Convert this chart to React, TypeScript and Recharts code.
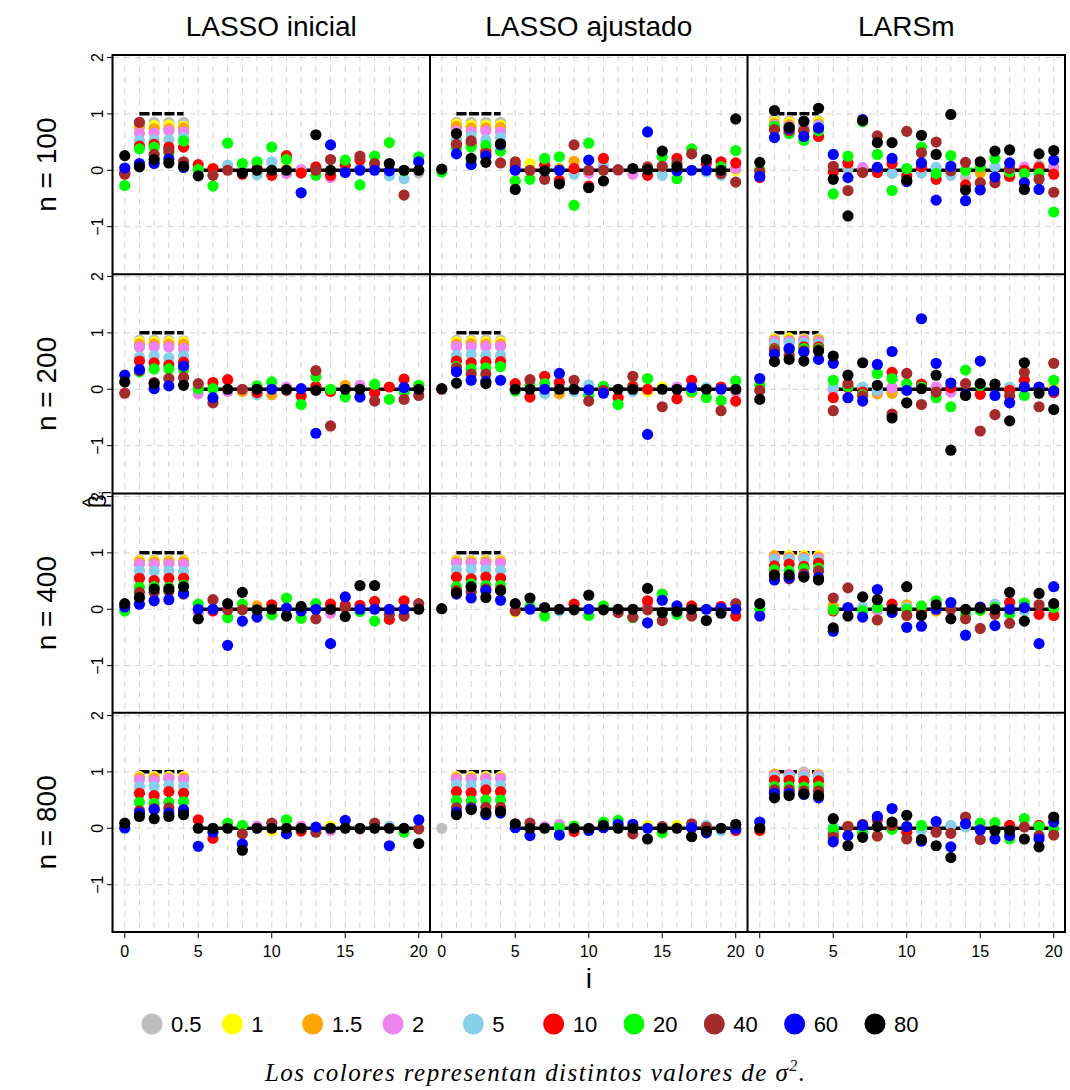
import React from 'react';
import { ScatterChart, Scatter, XAxis, YAxis, CartesianGrid } from 'recharts';

const _ = null;

const sigmaLabels = ['0.5', '1', '1.5', '2', '5', '10', '20', '40', '60', '80'];
const sigmaColors = ['#BEBEBE', '#FFFF00', '#FFA500', '#EE82EE', '#87CEEB', '#FF0000', '#00FF00', '#A52A2A', '#0000FF', '#000000'];
const methodTitles = ['LASSO inicial', 'LASSO ajustado', 'LARSm'];
const rowLabels = ['n = 100', 'n = 200', 'n = 400', 'n = 800'];
const indexTicks = [0, 1, 2, 3, 4, 5, 6, 7, 8, 9, 10, 11, 12, 13, 14, 15, 16, 17, 18, 19, 20];
const labelledIndexTicks = [0, 5, 10, 15, 20];
const betaTicks = [-1, 0, 1, 2];
const trueBeta = [_, 1, 1, 1, 1, 0, 0, 0, 0, 0, 0, 0, 0, 0, 0, 0, 0, 0, 0, 0, 0];

// each row: coefficient i, values for sigma^2 = 0.5,1,1.5,2,5,10,20,40,60,80 (null = not plotted)
const lassoIni100 = [
  [_, _, _, -0.04, _, -0.05, -0.27, -0.07, 0.04, 0.26],
  [0.83, 0.81, 0.77, 0.66, 0.53, 0.43, 0.38, 0.85, 0.12, 0.06],
  [0.85, 0.79, 0.74, 0.66, 0.54, 0.46, 0.41, 0.28, 0.12, 0.19],
  [0.85, 0.8, 0.74, 0.7, 0.54, 0.41, 0.3, 0.35, 0.2, 0.13],
  [0.85, 0.78, 0.75, 0.68, 0.58, 0.41, 0.52, 0.15, 0.05, 0.07],
  [_, _, _, _, _, 0.1, 0.01, _, _, -0.1],
  [_, _, _, _, _, 0.03, -0.28, -0.09, _, _],
  [_, _, _, _, 0.09, _, 0.48, 0.0, _, _],
  [_, _, _, _, _, -0.07, 0.12, _, _, -0.05],
  [_, _, _, _, -0.08, 0.03, 0.15, _, _, 0.0],
  [_, _, _, _, 0.15, -0.09, 0.41, _, _, 0.0],
  [_, 0.03, _, -0.06, _, 0.26, 0.19, _, _, 0.0],
  [_, _, _, 0.01, _, -0.05, _, _, -0.4, _],
  [_, _, _, _, _, 0.06, -0.09, 0.0, _, 0.63],
  [_, _, _, -0.13, _, -0.09, _, 0.19, 0.45, 0.0],
  [_, _, _, _, _, 0.09, 0.18, _, -0.04, _],
  [_, _, _, _, 0.05, 0.18, -0.26, 0.25, 0.0, _],
  [_, _, _, 0.03, _, _, 0.25, 0.12, 0.0, _],
  [_, _, _, _, -0.1, _, 0.49, _, -0.01, 0.12],
  [_, _, _, _, -0.15, _, -0.01, -0.44, _, 0.0],
  [-0.05, _, _, _, _, _, 0.24, _, 0.15, 0.0],
];

const lassoAju100 = [
  [_, _, _, _, _, _, -0.03, _, _, 0.02],
  [0.85, 0.82, 0.78, 0.7, 0.55, 0.44, 0.4, 0.46, 0.29, 0.65],
  [0.85, 0.8, 0.75, 0.68, 0.6, 0.47, 0.41, 0.52, 0.1, 0.21],
  [0.85, 0.8, 0.75, 0.7, 0.54, 0.34, 0.44, 0.3, 0.25, 0.14],
  [0.85, 0.8, 0.76, 0.68, 0.58, 0.46, 0.34, 0.13, 0.45, 0.47],
  [_, _, _, _, _, 0.08, -0.19, 0.15, 0.0, -0.34],
  [_, 0.12, _, _, _, _, -0.16, 0.0, _, _],
  [_, _, _, _, _, 0.09, 0.21, -0.16, _, -0.01],
  [_, _, 0.03, _, _, -0.18, 0.24, _, 0.0, -0.24],
  [_, _, 0.16, _, -0.07, 0.03, -0.62, 0.45, _, _],
  [_, _, _, -0.05, _, -0.28, 0.48, 0.0, 0.18, -0.31],
  [_, _, _, _, 0.1, 0.21, _, 0.0, _, -0.19],
  [_, _, _, 0.0, _, _, _, 0.01, _, _],
  [_, _, _, -0.07, _, _, _, _, _, 0.03],
  [_, _, _, _, _, -0.09, _, 0.06, 0.68, 0.01],
  [_, _, _, _, -0.09, _, 0.24, 0.07, _, 0.34],
  [_, _, _, _, _, 0.21, -0.15, 0.12, -0.01, 0.06],
  [_, _, _, _, _, _, 0.38, 0.29, 0.0, _],
  [_, _, _, _, -0.03, 0.12, _, _, 0.0, 0.19],
  [_, _, _, _, -0.09, 0.15, 0.06, -0.06, _, 0.0],
  [_, -0.01, _, 0.03, _, 0.13, 0.35, -0.21, _, 0.91],
];

const larsm100 = [
  [_, _, _, _, _, -0.13, 0.01, -0.02, -0.11, 0.14],
  [0.92, 0.86, 0.83, 0.8, 0.78, 0.75, 0.78, 0.72, 0.58, 1.06],
  [0.88, 0.85, 0.81, 0.78, 0.75, 0.66, 0.65, 0.7, 0.74, 0.76],
  [0.88, 0.85, 0.82, 0.78, 0.75, 0.7, 0.53, 0.7, 0.6, 0.87],
  [0.88, 0.86, 0.82, 0.8, 0.78, 0.6, 0.7, 0.75, 0.75, 1.1],
  [_, _, _, _, _, -0.03, -0.42, 0.07, 0.28, -0.16],
  [_, _, 0.02, _, 0.05, 0.13, 0.25, -0.36, -0.13, -0.81],
  [_, _, _, 0.05, _, _, 0.86, -0.04, 0.9, 0.88],
  [_, _, _, _, _, -0.04, 0.28, 0.61, 0.05, 0.49],
  [_, _, _, _, -0.06, 0.12, -0.36, _, 0.21, 0.49],
  [_, _, _, _, _, -0.1, 0.03, 0.69, -0.2, -0.18],
  [_, _, _, _, -0.05, 0.06, 0.41, 0.31, 0.13, 0.62],
  [_, _, _, _, 0.05, -0.16, -0.06, 0.5, -0.53, 0.28],
  [_, _, _, _, -0.09, _, 0.26, -0.01, 0.07, 0.99],
  [-0.12, _, _, _, _, -0.26, 0.0, 0.14, -0.54, -0.35],
  [_, _, -0.05, _, _, _, 0.06, -0.22, -0.35, 0.15],
  [_, _, _, _, 0.06, _, 0.21, -0.22, -0.12, 0.34],
  [_, _, _, _, _, -0.11, -0.03, 0.03, 0.13, 0.36],
  [_, _, _, 0.06, _, 0.0, -0.06, _, -0.22, -0.34],
  [0.09, _, _, _, _, 0.05, -0.06, -0.16, -0.34, 0.29],
  [_, _, _, 0.06, _, -0.07, -0.74, -0.39, 0.18, 0.35],
];

const lassoIni200 = [
  [_, _, _, _, _, _, _, -0.07, 0.25, 0.13],
  [0.87, 0.84, 0.8, 0.75, 0.57, 0.5, 0.31, 0.33, 0.35, _],
  [0.87, 0.84, 0.8, 0.75, 0.59, 0.47, 0.36, 0.12, 0.01, 0.1],
  [0.87, 0.84, 0.8, 0.75, 0.56, 0.43, 0.36, 0.19, 0.06, _],
  [0.86, 0.84, 0.8, 0.72, 0.59, 0.48, 0.35, 0.21, 0.41, 0.07],
  [_, _, _, -0.08, _, _, 0.01, 0.1, _, _],
  [_, _, _, _, _, 0.12, 0.01, -0.24, -0.15, _],
  [_, _, _, -0.04, _, 0.17, _, _, _, 0.0],
  [_, _, -0.04, _, _, _, _, 0.0, _, _],
  [_, _, _, _, -0.1, -0.06, 0.06, _, _, 0.0],
  [_, _, -0.1, _, _, _, 0.13, _, 0.0, _],
  [_, _, _, 0.04, _, _, _, -0.02, _, 0.0],
  [_, _, _, _, _, -0.12, -0.27, _, 0.01, _],
  [_, _, _, _, _, 0.05, 0.22, 0.33, -0.78, -0.02],
  [_, _, _, _, _, -0.04, 0.0, -0.65, _, _],
  [_, _, 0.07, _, _, _, -0.14, _, _, 0.0],
  [_, _, _, 0.07, _, _, _, _, -0.14, 0.0],
  [_, _, _, _, _, -0.06, 0.09, -0.21, _, _],
  [_, _, _, _, _, 0.04, -0.18, _, _, _],
  [_, _, _, _, _, 0.18, -0.05, -0.18, 0.03, _],
  [_, _, _, _, _, _, 0.07, -0.11, _, 0.0],
];

const lassoAju200 = [
  [_, _, _, _, _, 0.0, _, _, _, 0.01],
  [0.87, 0.84, 0.8, 0.76, 0.6, 0.5, 0.4, 0.38, 0.31, 0.11],
  [0.87, 0.85, 0.81, 0.75, 0.62, 0.47, 0.36, 0.27, 0.16, _],
  [0.87, 0.84, 0.8, 0.76, 0.6, 0.49, 0.38, 0.27, 0.14, 0.1],
  [0.87, 0.84, 0.8, 0.76, 0.6, 0.49, 0.4, _, 0.16, _],
  [_, _, _, _, _, 0.1, -0.03, _, _, 0.0],
  [_, _, _, _, _, -0.14, 0.06, 0.17, _, 0.0],
  [_, _, _, _, -0.08, 0.23, 0.1, _, 0.0, _],
  [_, _, -0.08, _, _, 0.12, _, _, 0.28, 0.0],
  [_, _, _, _, -0.04, _, _, 0.16, _, 0.0],
  [_, _, _, _, 0.08, _, -0.1, -0.21, -0.01, _],
  [_, _, _, 0.05, _, _, 0.05, -0.02, -0.07, _],
  [_, _, _, _, _, -0.15, -0.27, _, _, 0.0],
  [_, _, _, _, -0.04, 0.05, _, 0.23, _, 0.0],
  [_, -0.04, _, _, _, 0.0, 0.19, _, -0.8, _],
  [_, 0.04, _, _, _, _, _, -0.31, _, 0.0],
  [_, _, _, 0.04, _, -0.17, _, _, _, 0.0],
  [_, _, -0.06, _, _, 0.16, -0.04, _, 0.03, _],
  [_, _, _, _, 0.03, _, -0.15, _, _, 0.0],
  [_, _, _, _, _, 0.04, -0.2, -0.38, 0.0, _],
  [_, _, _, -0.04, _, -0.21, 0.15, _, _, 0.0],
];

const larsm200 = [
  [_, _, _, _, _, _, 0.08, -0.02, 0.19, -0.18],
  [0.9, 0.89, 0.87, 0.85, 0.8, 0.72, 0.7, 0.69, 0.62, 0.49],
  [0.9, 0.91, 0.87, 0.85, 0.82, 0.72, 0.7, 0.6, 0.72, 0.53],
  [0.9, 0.88, 0.87, 0.86, 0.82, 0.75, 0.72, 0.68, 0.66, 0.5],
  [0.9, 0.88, 0.87, 0.84, 0.8, 0.75, 0.72, 0.7, 0.53, 0.68],
  [_, _, _, 0.0, 0.04, -0.15, 0.16, -0.38, 0.46, 0.59],
  [_, _, _, _, _, 0.03, 0.05, 0.1, -0.15, 0.25],
  [_, 0.04, _, _, 0.04, -0.05, -0.1, -0.12, -0.21, 0.47],
  [_, _, -0.08, -0.03, -0.02, _, 0.28, _, 0.44, 0.07],
  [-0.05, _, -0.07, 0.03, _, 0.3, 0.19, -0.44, 0.67, -0.51],
  [_, _, _, _, _, _, 0.1, 0.28, -0.02, -0.24],
  [_, 0.01, _, _, _, 0.09, 0.04, -0.27, 1.25, 0.01],
  [_, _, _, 0.04, _, _, -0.15, -0.05, 0.46, 0.25],
  [_, _, _, -0.05, _, 0.03, -0.31, _, 0.11, -1.08],
  [_, _, _, _, _, _, 0.34, 0.1, -0.09, -0.11],
  [_, _, _, _, _, -0.09, 0.07, -0.74, 0.5, 0.1],
  [_, _, _, _, _, _, _, -0.45, -0.11, 0.09],
  [_, _, _, _, 0.04, -0.02, _, -0.12, -0.24, -0.56],
  [_, _, _, _, _, 0.16, -0.11, 0.3, 0.04, 0.47],
  [_, _, _, _, _, _, _, -0.31, 0.04, -0.07],
  [_, 0.04, _, _, _, -0.06, 0.16, 0.46, -0.03, -0.36],
];

const lassoIni400 = [
  [_, _, _, _, _, _, -0.03, _, 0.04, 0.1],
  [0.88, 0.86, 0.84, 0.8, 0.68, 0.55, 0.39, 0.3, 0.09, 0.21],
  [0.88, 0.86, 0.84, 0.8, 0.68, 0.51, 0.4, 0.3, 0.15, 0.36],
  [0.88, 0.86, 0.84, 0.8, 0.68, 0.55, 0.39, 0.32, 0.17, 0.36],
  [0.88, 0.86, 0.84, 0.8, 0.67, 0.55, 0.43, 0.27, 0.28, 0.4],
  [_, _, _, -0.07, _, _, 0.09, _, 0.0, -0.17],
  [_, _, _, _, _, -0.03, _, 0.17, 0.0, _],
  [_, _, _, _, _, _, -0.15, -0.01, -0.64, 0.1],
  [_, _, _, _, _, _, 0.09, -0.01, -0.21, 0.3],
  [_, _, 0.06, _, _, _, _, _, -0.14, -0.01],
  [_, _, _, _, _, 0.08, -0.1, _, _, 0.0],
  [_, _, _, _, _, _, 0.2, _, 0.02, -0.12],
  [_, _, _, _, _, _, -0.16, _, -0.03, 0.05],
  [_, _, _, _, _, _, 0.1, -0.17, 0.0, _],
  [_, _, _, -0.07, _, 0.09, _, _, -0.61, 0.0],
  [_, _, _, _, _, 0.07, _, 0.03, 0.22, -0.13],
  [_, _, _, _, _, 0.07, -0.04, _, 0.0, 0.42],
  [_, _, _, _, _, 0.14, -0.21, _, 0.0, 0.42],
  [_, _, _, _, _, -0.18, _, -0.09, 0.0, _],
  [_, _, _, _, _, 0.15, _, -0.12, 0.0, _],
  [_, _, _, _, _, _, _, 0.1, _, 0.0],
];

const lassoAju400 = [
  [_, _, _, _, _, _, _, _, _, 0.01],
  [0.88, 0.86, 0.84, 0.82, 0.7, 0.57, 0.4, 0.33, 0.27, 0.29],
  [0.88, 0.86, 0.84, 0.82, 0.71, 0.54, 0.45, 0.31, 0.2, 0.4],
  [0.88, 0.86, 0.84, 0.82, 0.7, 0.57, 0.42, 0.36, 0.33, 0.21],
  [0.88, 0.86, 0.84, 0.82, 0.69, 0.55, 0.42, 0.35, 0.16, 0.33],
  [_, -0.05, _, _, _, _, _, -0.03, _, 0.1],
  [_, _, _, _, _, _, 0.05, _, 0.0, 0.2],
  [_, _, _, _, _, _, -0.12, _, _, 0.03],
  [_, _, _, _, -0.03, _, _, _, _, 0.0],
  [_, _, _, _, _, 0.09, _, _, _, -0.01],
  [_, _, _, _, _, _, -0.11, _, 0.0, 0.25],
  [_, _, _, _, _, _, 0.06, _, _, -0.01],
  [_, _, _, _, _, _, _, -0.06, _, 0.0],
  [_, _, _, _, _, _, -0.15, -0.14, _, 0.0],
  [_, _, _, 0.06, _, 0.15, _, -0.01, -0.24, 0.37],
  [_, _, _, _, _, _, 0.27, -0.2, 0.16, -0.06],
  [_, _, _, _, _, _, -0.09, _, 0.06, -0.04],
  [_, _, _, _, _, 0.06, _, -0.12, _, 0.0],
  [_, _, _, _, _, _, _, _, 0.0, -0.2],
  [_, _, _, _, _, 0.05, _, _, 0.02, -0.07],
  [_, _, _, _, _, -0.12, _, 0.1, 0.0, _],
];

const larsm400 = [
  [_, _, _, _, _, _, 0.0, _, -0.12, 0.1],
  [0.93, 0.93, 0.95, 0.9, 0.88, 0.77, 0.7, 0.62, 0.52, 0.6],
  [0.93, 0.95, 0.92, 0.9, 0.88, 0.8, 0.68, 0.54, 0.56, 0.61],
  [0.93, 0.95, 0.92, 0.9, 0.88, 0.76, 0.72, 0.63, 0.58, 0.57],
  [0.93, 0.95, 0.92, 0.9, 0.87, 0.82, 0.73, 0.68, 0.56, 0.52],
  [_, _, 0.06, _, _, -0.03, -0.01, 0.2, -0.39, -0.33],
  [_, _, _, _, _, _, _, 0.38, 0.03, -0.12],
  [_, _, _, _, 0.04, _, -0.03, _, -0.14, 0.22],
  [_, _, _, -0.02, _, _, 0.03, -0.19, 0.35, 0.17],
  [_, _, _, _, _, 0.09, _, _, -0.06, 0.0],
  [_, _, 0.08, _, 0.03, _, 0.0, -0.11, -0.32, 0.4],
  [_, _, _, _, _, -0.03, 0.06, _, -0.3, -0.11],
  [_, _, -0.03, _, _, _, 0.15, _, 0.0, 0.08],
  [_, _, _, _, _, _, _, 0.0, 0.12, -0.17],
  [_, _, _, _, _, _, -0.09, -0.17, -0.46, 0.0],
  [_, _, _, _, _, _, -0.02, -0.34, 0.04, 0.02],
  [_, _, _, _, 0.09, _, 0.03, -0.09, -0.29, 0.0],
  [_, _, _, _, _, 0.12, -0.08, -0.25, 0.0, 0.3],
  [_, _, _, _, -0.03, _, 0.11, _, 0.03, -0.21],
  [_, _, _, _, _, -0.09, _, 0.08, -0.61, 0.28],
  [_, _, _, _, _, -0.11, 0.03, _, 0.4, 0.1],
];

const lassoIni800 = [
  [_, _, _, _, -0.01, _, _, _, 0.01, 0.09],
  [0.92, 0.91, 0.89, 0.86, 0.74, 0.62, 0.46, 0.31, 0.27, 0.21],
  [0.92, 0.91, 0.89, 0.85, 0.74, 0.58, 0.44, 0.35, 0.33, 0.17],
  [0.92, 0.91, 0.89, 0.88, 0.76, 0.65, 0.46, 0.36, 0.27, 0.21],
  [0.92, 0.91, 0.89, 0.86, 0.74, 0.62, 0.47, 0.29, 0.33, 0.24],
  [_, _, _, _, _, 0.15, _, _, -0.32, 0.0],
  [_, _, _, _, _, -0.18, _, _, -0.07, 0.0],
  [_, _, _, _, _, _, 0.09, _, _, 0.0],
  [_, _, _, _, _, _, 0.05, -0.1, -0.28, -0.39],
  [_, _, _, 0.04, _, _, _, _, _, 0.0],
  [_, -0.04, _, _, _, _, _, 0.09, _, 0.0],
  [_, _, _, _, _, _, 0.15, _, -0.1, 0.0],
  [_, _, _, 0.04, _, -0.05, _, _, _, 0.0],
  [_, _, _, _, _, _, _, -0.07, 0.02, _],
  [_, 0.04, _, -0.04, _, _, _, _, _, 0.0],
  [_, _, _, _, _, _, _, _, 0.14, 0.0],
  [_, _, _, _, _, _, _, -0.01, _, 0.0],
  [_, _, _, _, _, _, _, 0.09, _, 0.0],
  [_, _, _, _, 0.04, _, _, _, -0.31, 0.0],
  [_, _, _, _, _, _, -0.07, _, _, 0.0],
  [_, _, _, _, _, _, _, -0.01, 0.15, -0.27],
];

const lassoAju800 = [
  [0.0, _, _, _, _, _, _, _, _, _],
  [0.92, 0.91, 0.89, 0.87, 0.77, 0.65, 0.49, 0.36, 0.28, 0.24],
  [0.92, 0.91, 0.89, 0.87, 0.76, 0.63, 0.48, 0.37, 0.35, 0.33],
  [0.92, 0.91, 0.89, 0.88, 0.78, 0.68, 0.5, 0.37, 0.24, 0.27],
  [0.92, 0.91, 0.89, 0.88, 0.76, 0.65, 0.5, 0.37, 0.27, 0.3],
  [_, _, _, _, _, _, _, _, 0.01, 0.08],
  [_, _, _, _, _, _, _, 0.09, -0.13, 0.0],
  [_, _, _, 0.03, _, _, _, _, _, 0.0],
  [_, _, _, 0.07, _, _, 0.01, _, -0.12, _],
  [_, _, _, _, _, -0.06, 0.04, _, _, 0.0],
  [_, _, _, _, _, _, _, _, -0.04, 0.0],
  [_, _, _, _, _, _, 0.11, _, 0.01, 0.05],
  [_, _, _, _, _, _, 0.14, _, 0.07, 0.0],
  [_, _, _, _, _, _, _, -0.1, 0.07, 0.0],
  [_, 0.05, _, _, _, _, _, _, 0.0, -0.19],
  [_, _, _, _, _, _, -0.08, 0.03, _, 0.0],
  [_, 0.05, _, _, _, _, _, _, _, 0.0],
  [_, _, _, _, _, _, _, 0.08, 0.01, -0.15],
  [_, _, _, _, 0.05, _, _, 0.02, -0.08, -0.05],
  [_, _, _, _, -0.04, _, _, _, _, 0.0],
  [_, _, _, _, _, -0.04, _, _, -0.01, 0.07],
];

const larsm800 = [
  [_, _, _, _, _, -0.04, _, _, 0.11, 0.0],
  [0.95, 0.95, 0.96, 0.93, 0.9, 0.85, 0.74, 0.68, 0.62, 0.54],
  [0.95, 0.95, 0.94, 0.95, 0.9, 0.85, 0.74, 0.68, 0.62, 0.58],
  [1.0, 0.96, 0.95, 0.95, 0.92, 0.84, 0.73, 0.66, 0.6, 0.61],
  [0.96, 0.95, 0.94, 0.93, 0.9, 0.84, 0.74, 0.66, 0.54, 0.58],
  [_, _, _, _, 0.03, -0.08, -0.02, -0.16, -0.24, 0.17],
  [_, _, 0.04, _, _, _, _, 0.03, -0.13, -0.31],
  [_, _, _, _, _, _, -0.08, 0.07, 0.05, -0.16],
  [_, _, _, _, _, 0.15, _, -0.14, 0.21, 0.03],
  [_, _, _, _, _, _, -0.02, 0.05, 0.35, 0.11],
  [_, _, _, _, _, -0.07, _, -0.19, 0.03, 0.23],
  [_, _, _, _, -0.03, _, 0.05, _, -0.23, -0.2],
  [_, _, _, _, _, _, _, -0.07, 0.12, -0.31],
  [_, _, _, _, 0.05, _, _, -0.09, -0.33, -0.52],
  [_, _, _, _, 0.02, _, _, 0.2, 0.08, _],
  [_, _, _, _, _, _, 0.09, -0.2, -0.03, _],
  [_, _, _, _, _, _, 0.1, _, -0.19, -0.04],
  [_, _, _, _, _, 0.05, -0.19, _, -0.13, -0.04],
  [_, _, _, _, _, _, 0.17, 0.02, _, -0.19],
  [_, _, _, _, _, 0.05, 0.03, -0.13, -0.19, -0.33],
  [_, _, _, _, _, _, -0.01, -0.12, 0.11, 0.2],
];

const panelGrid = [
  [lassoIni100, lassoAju100, larsm100],
  [lassoIni200, lassoAju200, larsm200],
  [lassoIni400, lassoAju400, larsm400],
  [lassoIni800, lassoAju800, larsm800],
];

// layout
const X_DOMAIN = [-0.8, 20.8];
const Y_DOMAIN = [-1.844, 2.044];
const PLOT_LEFT = 112.5;
const PLOT_TOP = 55;
const PW = 317.5;
const PH = 219.25;
const YW = 40;
const XH = 40;
const PAD = 12;
const SANS = '"Liberation Sans", Arial, Helvetica, sans-serif';
const GRID = '#D3D3D3';

const seriesFor = (rows: any[], k: number) =>
  rows.flatMap((row: any[], i: number) => (row[k] == null ? [] : [{ x: i, y: row[k] }]));

const segmentFor = (value: number) => {
  const idx = trueBeta.map((b, i) => (b === value ? i : -1)).filter((i) => i >= 0);
  return [
    { x: idx[0], y: value },
    { x: idx[idx.length - 1], y: value },
  ];
};

const Empty = () => <g />;

const XTick = (props: any) => {
  const { x, y, payload } = props;
  if (!labelledIndexTicks.includes(payload.value)) return <g />;
  return (
    <g>
      <line x1={x} x2={x} y1={y} y2={y + 6} stroke="#000" strokeWidth={1} />
      <text x={x} y={y + 19} textAnchor="middle" dominantBaseline="central" fontSize={16} fontFamily={SANS} fill="#000">
        {payload.value}
      </text>
    </g>
  );
};

const YTick = (props: any) => {
  const { x, y, payload } = props;
  const label = payload.value < 0 ? '\u2212' + Math.abs(payload.value) : String(payload.value);
  const bx = x - 10;
  return (
    <g>
      <line x1={x - 6} x2={x} y1={y} y2={y} stroke="#000" strokeWidth={1} />
      <text x={bx} y={y} transform={`rotate(-90 ${bx} ${y})`} textAnchor="middle" fontSize={16} fontFamily={SANS} fill="#000">
        {label}
      </text>
    </g>
  );
};

function Panel({ rows, r, c }: { rows: any[]; r: number; c: number }) {
  const isLeft = c === 0;
  const isBottom = r === 3;
  const padTop = isLeft ? PAD : 0;
  const w = PW + (isLeft ? YW : 0);
  const h = PH + padTop + (isBottom ? XH : 0);
  const left = PLOT_LEFT + c * PW - (isLeft ? YW : 0);
  const top = PLOT_TOP + r * PH - padTop;
  return (
    <div style={{ position: 'absolute', left, top, width: w, height: h }}>
      <ScatterChart width={w} height={h} margin={{ top: padTop, right: 0, bottom: 0, left: 0 }}>
        <CartesianGrid stroke={GRID} strokeDasharray="6 5" strokeWidth={1} />
        <XAxis
          type="number"
          dataKey="x"
          domain={X_DOMAIN}
          ticks={indexTicks}
          interval={0}
          allowDataOverflow
          hide={!isBottom}
          height={XH}
          tick={XTick}
          tickLine={false}
          axisLine={false}
          tickSize={0}
          tickMargin={0}
        />
        <YAxis
          type="number"
          dataKey="y"
          domain={Y_DOMAIN}
          ticks={betaTicks}
          interval={0}
          allowDataOverflow
          hide={!isLeft}
          width={YW}
          tick={YTick}
          tickLine={false}
          axisLine={false}
          tickSize={0}
          tickMargin={0}
        />
        <Scatter
          data={segmentFor(0)}
          line={{ stroke: '#000', strokeWidth: 3.5 }}
          shape={Empty}
          isAnimationActive={false}
        />
        <Scatter
          data={segmentFor(1)}
          line={{ stroke: '#000', strokeWidth: 3.5, strokeDasharray: '10 2.5' }}
          shape={Empty}
          isAnimationActive={false}
        />
        {sigmaLabels.map((s, k) => (
          <Scatter
            key={s}
            name={s}
            data={seriesFor(rows, k)}
            fill={sigmaColors[k]}
            isAnimationActive={false}
            shape={(p: any) => <circle cx={p.cx} cy={p.cy} r={5.6} fill={sigmaColors[k]} />}
          />
        ))}
      </ScatterChart>
    </div>
  );
}

export default function App() {
  const legendY = 1024;
  const legendX0 = 152;
  const legendStep = 80.33;
  const betaY = PLOT_TOP + 2 * PH + 6;
  return (
    <div style={{ position: 'absolute', left: 0, top: 0, width: 1070, height: 1090, background: '#fff' }}>
      {panelGrid.map((row, r) => row.map((rows, c) => <Panel key={`${r}-${c}`} rows={rows} r={r} c={c} />))}
      <svg width={1070} height={1090} style={{ position: 'absolute', left: 0, top: 0, pointerEvents: 'none' }}>
        <rect x={PLOT_LEFT} y={PLOT_TOP} width={3 * PW} height={4 * PH} fill="none" stroke="#000" strokeWidth={2} />
        {[1, 2].map((c) => (
          <line key={'v' + c} x1={PLOT_LEFT + c * PW} x2={PLOT_LEFT + c * PW} y1={PLOT_TOP} y2={PLOT_TOP + 4 * PH} stroke="#000" strokeWidth={2} />
        ))}
        {[1, 2, 3].map((r) => (
          <line key={'h' + r} x1={PLOT_LEFT} x2={PLOT_LEFT + 3 * PW} y1={PLOT_TOP + r * PH} y2={PLOT_TOP + r * PH} stroke="#000" strokeWidth={2} />
        ))}
        {methodTitles.map((t, c) => (
          <text key={t} x={PLOT_LEFT + (c + 0.5) * PW} y={26} textAnchor="middle" dominantBaseline="central" fontSize={28} fontFamily={SANS} fill="#000">
            {t}
          </text>
        ))}
        {rowLabels.map((t, r) => {
          const cy = PLOT_TOP + (r + 0.5) * PH;
          const bx = 56;
          return (
            <text key={t} x={bx} y={cy} transform={`rotate(-90 ${bx} ${cy})`} textAnchor="middle" fontSize={28} fontFamily={SANS} fill="#000">
              {t}
            </text>
          );
        })}
        <g transform={`translate(106 ${betaY}) rotate(-90)`}>
          <text x={0} y={0} textAnchor="middle" fontSize={24} fontFamily={SANS} fill="#000">
            {'\u03B2'}
            <tspan fontSize={17} dy={5}>i</tspan>
          </text>
          <text x={-3} y={-9} textAnchor="middle" fontSize={20} fontFamily={SANS} fill="#000">^</text>
        </g>
        <text x={PLOT_LEFT + 1.5 * PW} y={978} textAnchor="middle" dominantBaseline="central" fontSize={28} fontFamily={SANS} fill="#000">
          i
        </text>
        {sigmaLabels.map((s, k) => {
          const cx = legendX0 + k * legendStep;
          return (
            <g key={'lg' + s}>
              <circle cx={cx} cy={legendY} r={10.5} fill={sigmaColors[k]} />
              <text x={cx + 19} y={legendY} dominantBaseline="central" fontSize={22} fontFamily={SANS} fill="#000">
                {s}
              </text>
            </g>
          );
        })}
        <text
          x={535}
          y={1081}
          textAnchor="middle"
          fontSize={25}
          fontStyle="italic"
          fontFamily='"Liberation Serif", "DejaVu Serif", serif'
          fill="#000"
          textLength={540}
          lengthAdjust="spacing"
        >
          Los colores representan distintos valores de {'\u03C3'}
          <tspan fontSize={16} dy={-10}>2</tspan>
          <tspan dy={10}>.</tspan>
        </text>
      </svg>
    </div>
  );
}
